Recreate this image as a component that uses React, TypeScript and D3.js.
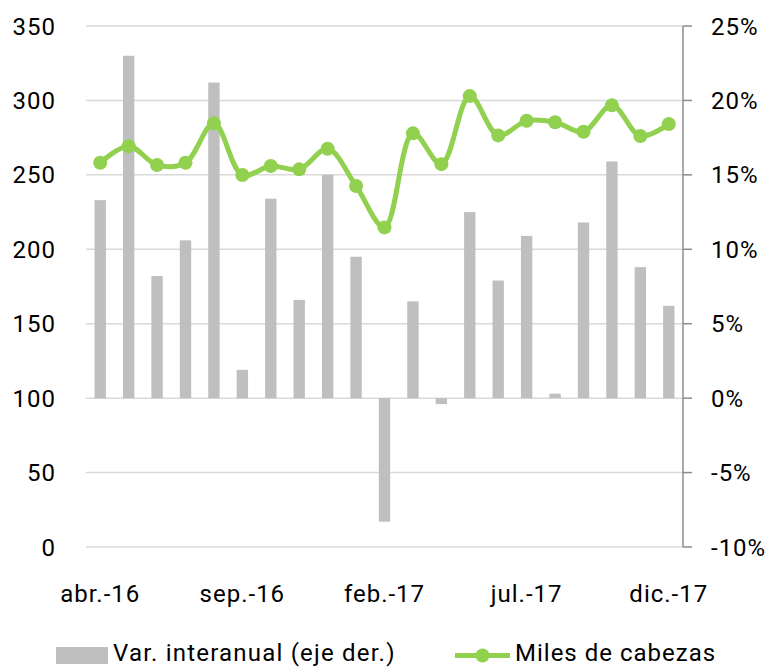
import * as d3 from "d3";

// months abr.-16 .. dic.-17
const months = [
  "abr.-16", "may.-16", "jun.-16", "jul.-16", "ago.-16", "sep.-16", "oct.-16",
  "nov.-16", "dic.-16", "ene.-17", "feb.-17", "mar.-17", "abr.-17", "may.-17",
  "jun.-17", "jul.-17", "ago.-17", "sep.-17", "oct.-17", "nov.-17", "dic.-17",
];

// Var. interanual (%), right axis
const varInteranual = [
  13.3, 23.0, 8.2, 10.6, 21.2, 1.9, 13.4, 6.6, 15.0, 9.5, -8.3,
  6.5, -0.4, 12.5, 7.9, 10.9, 0.3, 11.8, 15.9, 8.8, 6.2,
];

// Miles de cabezas, left axis
const milesCabezas = [
  258.1, 269.3, 256.6, 258.1, 284.6, 249.9, 255.9, 253.7, 267.5, 242.5, 214.7,
  277.9, 257.2, 302.9, 276.5, 286.3, 285.3, 279.0, 296.7, 276.1, 284.1,
];

const leftTicks = [0, 50, 100, 150, 200, 250, 300, 350];
const rightTicks = [-10, -5, 0, 5, 10, 15, 20, 25];
const shownLabels = ["abr.-16", "sep.-16", "feb.-17", "jul.-17", "dic.-17"];

const legendBars = "Var. interanual (eje der.)";
const legendLine = "Miles de cabezas";

export default function App() {
  const width = 774;
  const height = 668;
  const plot = { left: 86, right: 683, top: 26, bottom: 547 };
  const font = "Roboto, 'DejaVu Sans', sans-serif";
  const green = "#92D050";
  const gray = "#BFBFBF";

  const x = d3.scaleBand(months, [plot.left, plot.right]);
  const yLeft = d3.scaleLinear([0, 350], [plot.bottom, plot.top]);
  const yRight = d3.scaleLinear([-10, 25], [plot.bottom, plot.top]);
  const barW = x.bandwidth() * 0.4;
  const cx = (m: string) => (x(m) ?? 0) + x.bandwidth() / 2;

  const line = d3
    .line<number>()
    .x((_, i) => cx(months[i]))
    .y((d) => yLeft(d))
    .curve(d3.curveCatmullRom.alpha(0.5));

  return (
    <div style={{ position: "absolute", left: 0, top: 0 }}>
      <svg width={width} height={height} style={{ display: "block" }} fontFamily={font}>
        <g id="grid">
          {leftTicks.map((t) => (
            <line key={t} x1={plot.left} x2={plot.right} y1={yLeft(t)} y2={yLeft(t)}
              stroke="#D9D9D9" strokeWidth={1.5} />
          ))}
        </g>
        <g id="bars">
          {varInteranual.map((v, i) => (
            <rect key={i} x={cx(months[i]) - barW / 2} width={barW}
              y={Math.min(yRight(v), yRight(0))}
              height={Math.abs(yRight(v) - yRight(0))} fill={gray} />
          ))}
        </g>
        <g id="right-axis">
          <line x1={plot.right} x2={plot.right} y1={plot.top} y2={plot.bottom}
            stroke="#8C8C8C" strokeWidth={1.5} />
          {rightTicks.map((t) => (
            <g key={t}>
              <line x1={plot.right} x2={plot.right + 9} y1={yRight(t)} y2={yRight(t)}
                stroke="#8C8C8C" strokeWidth={1.5} />
              <text x={711} y={yRight(t)} dy="0.36em" fontSize={24} letterSpacing={1} fill="#000">
                {`${t}%`}
              </text>
            </g>
          ))}
        </g>
        <g id="left-axis">
          {leftTicks.map((t) => (
            <text key={t} x={56} y={yLeft(t)} dy="0.36em" textAnchor="end"
              fontSize={24} letterSpacing={1} fill="#000">
              {t}
            </text>
          ))}
        </g>
        <g id="x-axis">
          {shownLabels.map((m) => (
            <text key={m} x={cx(m)} y={602} textAnchor="middle" fontSize={24}
              letterSpacing={1} fill="#000">
              {m}
            </text>
          ))}
        </g>
        <g id="line">
          <path d={line(milesCabezas) ?? ""} fill="none" stroke={green} strokeWidth={5}
            strokeLinejoin="round" />
          {milesCabezas.map((v, i) => (
            <circle key={i} cx={cx(months[i])} cy={yLeft(v)} r={7} fill={green} />
          ))}
        </g>
        <g id="legend">
          <rect x={56} y={647} width={52} height={17} fill={gray} />
          <text x={113} y={661} fontSize={24} letterSpacing={1.2} fill="#000">{legendBars}</text>
          <line x1={455} x2={510} y1={655.5} y2={655.5} stroke={green} strokeWidth={5} />
          <circle cx={482.5} cy={655.5} r={7} fill={green} />
          <text x={515} y={661} fontSize={24} letterSpacing={1} fill="#000">{legendLine}</text>
        </g>
      </svg>
    </div>
  );
}
